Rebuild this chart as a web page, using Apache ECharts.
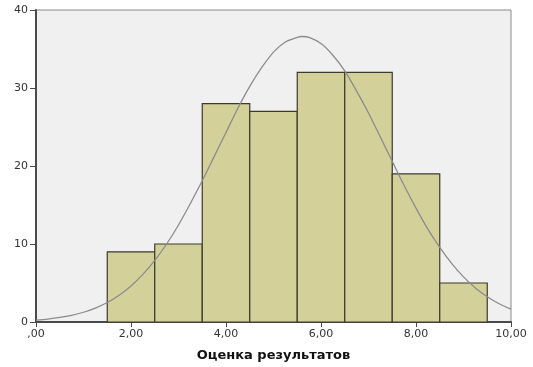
<!DOCTYPE html>
<html><head><meta charset="utf-8">
<script src="https://cdn.jsdelivr.net/npm/echarts@6/dist/echarts.min.js"></script>
<style>html,body{margin:0;padding:0;background:#fff}#c{width:533px;height:367px}</style>
</head><body><div id="c"></div>
<script>
// Histogram bins: [left edge, right edge]
const binStarts = [1.5, 2.5, 3.5, 4.5, 5.5, 6.5, 7.5, 8.5];
const binEnds   = [2.5, 3.5, 4.5, 5.5, 6.5, 7.5, 8.5, 9.5];
const counts    = [9, 10, 28, 27, 32, 32, 19, 5];
// Normal curve
const curveX = [0,0.25,0.5,0.75,1,1.25,1.5,1.75,2,2.25,2.5,2.75,3,3.25,3.5,3.75,4,4.25,4.5,4.75,5,5.25,5.5,5.6,5.75,6,6.25,6.5,6.75,7,7.25,7.5,7.75,8,8.25,8.5,8.75,9,9.25,9.5,9.75,10];
const curveY = [0.25,0.38,0.58,0.86,1.25,1.79,2.5,3.44,4.63,6.1,7.89,10.0,12.44,15.2,18.1,21.2,24.3,27.4,30.2,32.6,34.6,35.9,36.5,36.6,36.5,35.7,34.2,32.2,29.6,26.8,23.7,20.6,17.5,14.6,11.9,9.56,7.51,5.78,4.37,3.23,2.34,1.66];
const xTickLabels = {0:',00',2:'2,00',4:'4,00',6:'6,00',8:'8,00',10:'10,00'};
const yTicks = [0,10,20,30,40];
const xTitle = 'Оценка результатов';

const chart = echarts.init(document.getElementById('c'));
const font = 'DejaVu Sans, sans-serif';
chart.setOption({
  animation:false,
  backgroundColor:'#fff',
  grid:{left:36,right:22,top:10,bottom:40,show:true,backgroundColor:'#f0f0f0',borderColor:'#8a8a8a',borderWidth:1},
  xAxis:{type:'value',min:0,max:10,interval:2,
    name:xTitle,nameLocation:'middle',nameGap:27,
    nameTextStyle:{fontFamily:font,fontSize:13,fontWeight:'bold',color:'#111'},
    axisLine:{show:true,onZero:false,lineStyle:{color:'#4a4a4a',width:2}},
    axisTick:{show:true,length:5,lineStyle:{color:'#4a4a4a'}},
    axisLabel:{fontFamily:font,fontSize:11,color:'#333',margin:7,formatter:v=>xTickLabels[v]!==undefined?xTickLabels[v]:''},
    splitLine:{show:false}},
  yAxis:{type:'value',min:0,max:40,interval:10,
    axisLine:{show:true,lineStyle:{color:'#4a4a4a',width:2}},
    axisTick:{show:true,length:6,lineStyle:{color:'#4a4a4a'}},
    axisLabel:{fontFamily:font,fontSize:11,color:'#333',margin:8,formatter:v=>yTicks.includes(v)?String(v):''},
    splitLine:{show:false}},
  series:[
    {type:'custom',
     data:counts.map((c,i)=>[binStarts[i],binEnds[i],c]),
     encode:{x:[0,1],y:2},
     renderItem:function(params,api){
       const p0=api.coord([api.value(0),api.value(2)]);
       const p1=api.coord([api.value(1),0]);
       return {type:'rect',shape:{x:p0[0],y:p0[1],width:p1[0]-p0[0],height:p1[1]-p0[1]},
         style:{fill:'#d4d09a',stroke:'#3c3a2c',lineWidth:1.2}};
     },z:2},
    {type:'line',data:curveX.map((x,i)=>[x,curveY[i]]),smooth:0.3,showSymbol:false,
     lineStyle:{color:'#8c8c8c',width:1.3},z:3}
  ]
});
</script></body></html>
